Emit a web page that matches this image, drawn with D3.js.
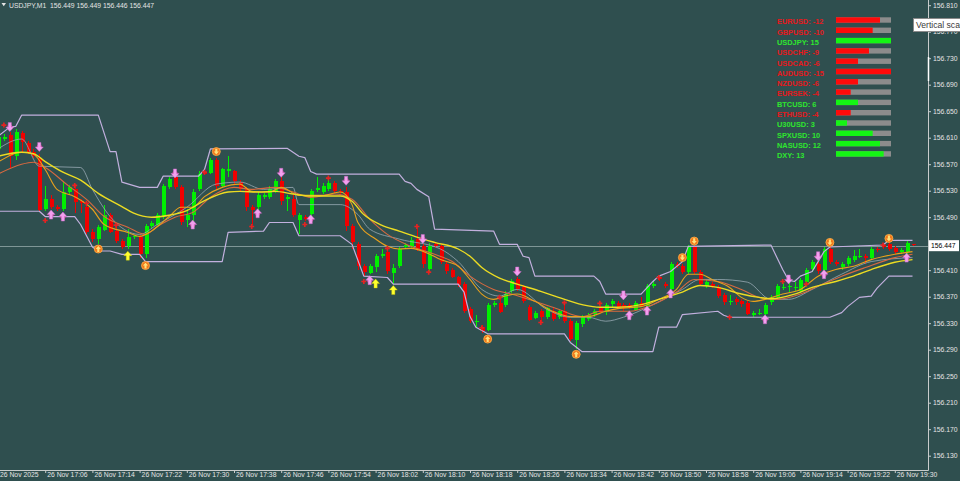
<!DOCTYPE html>
<html lang="en">
<head>
<meta charset="UTF-8">
<title>USDJPY,M1</title>
<script src="https://cdn.jsdelivr.net/npm/d3@7"></script>
<style>
  html, body { margin: 0; padding: 0; background: #2f4f4f; }
  svg { display: block; }
  text { font-family: "Liberation Sans", Arial, sans-serif; }
</style>
</head>
<body>
<svg width="960" height="481"></svg>
<script>
const width = 960;
const height = 481;

// one-minute bars, first bar 26 Nov 16:58, last bar 19:33
const open = [
  156.593,156.608,156.614,156.582,156.617,156.602,156.589,156.580,156.502,156.517,
  156.506,156.502,156.528,156.532,156.514,156.505,156.467,156.457,156.472,156.494,
  156.469,156.454,156.446,156.460,156.460,156.434,156.476,156.479,156.491,156.535,
  156.550,156.535,156.487,156.494,156.532,156.558,156.558,156.577,156.537,156.559,
  156.559,156.543,156.532,156.505,156.505,156.520,156.520,156.529,156.544,156.517,
  156.518,156.487,156.490,156.494,156.531,156.528,156.532,156.541,156.529,156.528,
  156.476,156.449,156.416,156.407,156.414,156.431,156.437,156.407,156.416,156.445,
  156.445,156.457,156.446,156.411,156.449,156.446,156.419,156.411,156.399,156.389,
  156.351,156.333,156.324,156.321,156.358,156.361,156.358,156.378,156.396,156.384,
  156.355,156.339,156.348,156.339,156.349,156.339,156.348,156.333,156.306,156.328,
  156.337,156.343,156.355,156.346,156.358,156.360,156.358,156.357,156.351,156.361,
  156.355,156.386,156.399,156.389,156.381,156.419,156.416,156.407,156.445,156.407,
  156.386,156.389,156.384,156.372,156.361,156.366,156.363,156.361,156.343,156.345,
  156.343,156.361,156.369,156.383,156.384,156.383,156.378,156.393,156.411,156.419,
  156.411,156.442,156.422,156.414,156.419,156.426,156.431,156.432,156.429,156.442,
  156.448,156.449,156.443,156.437,156.437,156.449
];
const high = [
  156.617,156.615,156.618,156.623,156.620,156.605,156.593,156.585,156.537,156.523,
  156.509,156.543,156.538,156.540,156.517,156.511,156.472,156.478,156.509,156.497,
  156.478,156.457,156.472,156.463,156.463,156.479,156.484,156.497,156.540,156.550,
  156.553,156.538,156.502,156.532,156.559,156.562,156.580,156.580,156.565,156.582,
  156.562,156.546,156.535,156.508,156.528,156.526,156.537,156.547,156.550,156.523,
  156.523,156.497,156.493,156.532,156.551,156.541,156.547,156.544,156.532,156.535,
  156.479,156.452,156.419,156.420,156.435,156.442,156.443,156.419,156.445,156.451,
  156.460,156.472,156.449,156.451,156.452,156.449,156.422,156.414,156.402,156.392,
  156.354,156.343,156.327,156.361,156.364,156.369,156.378,156.396,156.399,156.387,
  156.358,156.349,156.351,156.355,156.353,156.351,156.361,156.336,156.334,156.342,
  156.346,156.351,156.358,156.360,156.366,156.363,156.361,156.360,156.364,156.369,
  156.389,156.393,156.402,156.392,156.422,156.422,156.419,156.448,156.448,156.410,
  156.395,156.392,156.387,156.375,156.372,156.369,156.366,156.364,156.349,156.351,
  156.360,156.372,156.389,156.390,156.396,156.392,156.398,156.414,156.425,156.422,
  156.445,156.445,156.425,156.422,156.431,156.440,156.442,156.435,156.445,156.445,
  156.451,156.452,156.446,156.443,156.454,156.449
];
const low = [
  156.589,156.605,156.565,156.577,156.588,156.585,156.580,156.499,156.499,156.502,
  156.500,156.499,156.523,156.497,156.496,156.464,156.452,156.449,156.469,156.466,
  156.451,156.442,156.442,156.457,156.429,156.429,156.473,156.476,156.488,156.532,
  156.532,156.478,156.475,156.484,156.529,156.553,156.555,156.532,156.535,156.550,
  156.540,156.528,156.499,156.478,156.500,156.517,156.517,156.526,156.509,156.499,
  156.490,156.464,156.484,156.491,156.528,156.525,156.529,156.526,156.525,156.469,
  156.442,156.411,156.402,156.404,156.408,156.428,156.405,156.389,156.413,156.442,
  156.442,156.439,156.414,156.408,156.443,156.419,156.405,156.398,156.384,156.345,
  156.330,156.325,156.315,156.318,156.355,156.345,156.355,156.375,156.378,156.360,
  156.333,156.336,156.331,156.336,156.334,156.336,156.330,156.303,156.291,156.325,
  156.334,156.340,156.346,156.343,156.355,156.351,156.349,156.351,156.348,156.354,
  156.353,156.383,156.393,156.383,156.378,156.413,156.404,156.404,156.404,156.386,
  156.383,156.383,156.368,156.358,156.357,156.358,156.355,156.342,156.340,156.342,
  156.340,156.358,156.366,156.380,156.377,156.378,156.375,156.384,156.408,156.405,
  156.408,156.419,156.416,156.411,156.416,156.423,156.428,156.420,156.426,156.437,
  156.442,156.439,156.434,156.434,156.434,156.446
];
const close = [
  156.611,156.611,156.582,156.618,156.603,156.589,156.583,156.502,156.517,156.505,
  156.503,156.528,156.535,156.512,156.511,156.467,156.457,156.475,156.494,156.469,
  156.454,156.445,156.460,156.461,156.434,156.476,156.481,156.494,156.537,156.547,
  156.535,156.482,156.494,156.528,156.555,156.555,156.577,156.537,156.562,156.562,
  156.544,156.532,156.505,156.500,156.523,156.523,156.532,156.544,156.514,156.520,
  156.494,156.494,156.487,156.529,156.534,156.537,156.541,156.529,156.528,156.476,
  156.452,156.416,156.407,156.417,156.431,156.434,156.408,156.414,156.442,156.448,
  156.455,156.442,156.419,156.446,156.446,156.422,156.408,156.401,156.387,156.348,
  156.333,156.334,156.318,156.358,156.361,156.348,156.374,156.393,156.381,156.363,
  156.336,156.346,156.339,156.353,156.337,156.348,156.333,156.306,156.331,156.339,
  156.343,156.348,156.348,156.357,156.363,156.354,156.353,156.354,156.361,156.357,
  156.386,156.389,156.396,156.386,156.419,156.416,156.407,156.445,156.407,156.389,
  156.392,156.386,156.371,156.361,156.363,156.361,156.358,156.345,156.346,156.346,
  156.357,156.369,156.386,156.384,156.386,156.384,156.395,156.411,156.422,156.408,
  156.442,156.422,156.419,156.419,156.428,156.432,156.432,156.429,156.442,156.440,
  156.445,156.442,156.437,156.440,156.451,156.447
];

const tickBars = [0, 8, 16, 24, 32, 40, 48, 56, 64, 72, 80, 88, 96, 104, 112, 120, 128, 136, 144, 152];
const tickLabels = ['26 Nov 2025', '26 Nov 17:06', '26 Nov 17:14', '26 Nov 17:22', '26 Nov 17:30',
  '26 Nov 17:38', '26 Nov 17:46', '26 Nov 17:54', '26 Nov 18:02', '26 Nov 18:10', '26 Nov 18:18',
  '26 Nov 18:26', '26 Nov 18:34', '26 Nov 18:42', '26 Nov 18:50', '26 Nov 18:58', '26 Nov 19:06',
  '26 Nov 19:14', '26 Nov 19:22', '26 Nov 19:30'];
// 156.450 sits under the current-price box, so it is not labelled
const priceTicks = [156.130, 156.170, 156.210, 156.250, 156.290, 156.330, 156.370, 156.410,
  156.490, 156.530, 156.570, 156.610, 156.650, 156.690, 156.730, 156.770, 156.810];

// indicator lines, [bar, price]
const maYellow = [[0,156.582],[4,156.588],[6,156.586],[8,156.574],[11,156.558],[14,156.546],[17,156.526],
  [21,156.506],[23,156.496],[26,156.490],[29,156.493],[32,156.500],[35,156.515],[39,156.528],[41,156.529],
  [44,156.528],[47,156.529],[50,156.525],[53,156.522],[56,156.522],[58,156.522],[60,156.514],[62,156.494],
  [65,156.478],[68,156.469],[71,156.460],[74,156.452],[78,156.442],[80,156.431],[82,156.414],[85,156.398],
  [88,156.389],[92,156.378],[95,156.369],[99,156.358],[102,156.354],[105,156.354],[109,156.358],[112,156.366],
  [116,156.377],[119,156.387],[122,156.384],[126,156.374],[129,156.369],[131,156.367],[135,156.374],
  [138,156.384],[142,156.393],[145,156.401],[148,156.411],[152,156.422],[155,156.426]];
const maOrange = [[0,156.573],[4,156.588],[6,156.585],[8,156.562],[10,156.532],[13,156.521],[16,156.502],
  [18,156.479],[22,156.467],[24,156.461],[26,156.469],[29,156.491],[31,156.505],[33,156.505],[35,156.521],
  [38,156.535],[41,156.540],[43,156.529],[46,156.528],[48,156.535],[51,156.523],[55,156.523],[58,156.528],
  [60,156.509],[61,156.482],[64,156.457],[66,156.446],[68,156.442],[70,156.443],[73,156.435],[75,156.426],
  [78,156.416],[80,156.396],[82,156.374],[84,156.366],[86,156.371],[88,156.374],[91,156.363],[94,156.348],
  [97,156.340],[100,156.340],[103,156.348],[105,156.352],[109,156.355],[112,156.366],[115,156.381],
  [117,156.404],[119,156.404],[121,156.396],[124,156.384],[126,156.369],[128,156.363],[130,156.366],
  [133,156.374],[136,156.381],[139,156.401],[142,156.411],[145,156.416],[148,156.426],[152,156.434],[155,156.438]];
const maSalmon = [[0,156.555],[4,156.570],[6,156.573],[8,156.565],[12,156.537],[15,156.517],[18,156.491],
  [22,156.475],[25,156.464],[27,156.476],[30,156.490],[33,156.497],[36,156.520],[40,156.535],[43,156.532],
  [47,156.535],[50,156.528],[53,156.520],[57,156.525],[60,156.517],[63,156.487],[66,156.464],[70,156.446],
  [74,156.434],[77,156.423],[80,156.401],[84,156.381],[87,156.374],[91,156.363],[95,156.351],[99,156.340],
  [102,156.348],[107,156.348],[111,156.358],[115,156.377],[118,156.396],[122,156.393],[126,156.381],
  [129,156.369],[132,156.366],[136,156.374],[139,156.386],[143,156.401],[147,156.414],[152,156.429],[155,156.434]];
const thinGrey = [[0,156.593],[4,156.608],[7,156.567],[14,156.565],[16,156.532],[19,156.491],[24,156.464],
  [27,156.479],[32,156.505],[37,156.540],[41,156.543],[45,156.532],[50,156.535],[51,156.509],[58,156.509],
  [61,156.494],[63,156.472],[68,156.457],[75,156.442],[78,156.423],[82,156.381],[85,156.371],[88,156.381],
  [93,156.351],[97,156.339],[100,156.339],[103,156.333],[106,156.339],[111,156.358],[116,156.381],
  [119,156.396],[122,156.396],[127,156.392],[131,156.366],[134,156.366],[138,156.381],[143,156.404],
  [148,156.423],[155,156.429]];
const channelUpper = [[0,156.612],[2,156.626],[3,156.627],[4,156.644],[17,156.644],[19,156.589],[20,156.589],
  [21,156.543],[24,156.535],[27,156.535],[28,156.552],[34,156.552],[35,156.562],[36,156.593],[49,156.594],
  [51,156.582],[52,156.580],[53,156.559],[54,156.555],[68,156.555],[69,156.544],[70,156.541],[71,156.532],
  [73,156.521],[74,156.472],[84,156.469],[85,156.449],[88,156.449],[89,156.431],[90,156.429],[91,156.401],
  [101,156.401],[102,156.393],[103,156.374],[109,156.374],[111,156.393],[112,156.401],[114,156.408],
  [116,156.423],[117,156.446],[131,156.448],[133,156.411],[134,156.395],[135,156.393],[136,156.401],
  [138,156.408],[139,156.423],[140,156.438],[141,156.445],[150,156.448],[151,156.455],[155,156.455]];
const channelLower = [[0,156.499],[7,156.499],[8,156.491],[13,156.491],[14,156.479],[16,156.445],[17,156.439],
  [19,156.439],[21,156.434],[24,156.434],[25,156.423],[38,156.423],[39,156.467],[45,156.469],[46,156.482],
  [50,156.482],[51,156.462],[58,156.462],[60,156.449],[62,156.401],[66,156.399],[67,156.389],[78,156.389],
  [79,156.377],[80,156.340],[81,156.324],[83,156.314],[96,156.314],[97,156.301],[99,156.287],[111,156.287],
  [112,156.324],[115,156.324],[116,156.343],[122,156.348],[123,156.342],[124,156.339],[141,156.339],
  [143,156.346],[144,156.355],[146,156.369],[148,156.371],[149,156.383],[151,156.401],[155,156.401]];

// signals, [bar, price, direction] (1 = up arrow, -1 = down arrow)
const pinkSignals = [[2,156.626,-1],[7,156.596,-1],[9,156.494,1],[11,156.491,1],[30,156.556,-1],[33,156.479,1],
  [44,156.496,1],[48,156.557,-1],[53,156.487,1],[59,156.545,-1],[63,156.395,1],[72,156.457,-1],[88,156.408,-1],
  [106,156.372,-1],[107,156.342,1],[110,156.349,1],[114,156.375,1],[130,156.336,1],[134,156.396,-1],
  [139,156.431,-1],[140,156.404,1],[154,156.429,1]];
const yellowSignals = [[22,156.432,1],[64,156.390,1],[67,156.380,1]];
const orangeSignals = [[17,156.442,1],[25,156.417,1],[37,156.589,-1],[83,156.306,1],[98,156.283,1],
  [116,156.429,-1],[118,156.454,-1],[141,156.452,-1],[151,156.458,-1]];
const redDots = [[1,156.629],[8,156.485],[13,156.538],[15,156.511],[20,156.478],[35,156.558],[43,156.476],
  [52,156.479],[56,156.549],[62,156.393],[66,156.443],[71,156.476],[73,156.407],[82,156.323],[85,156.369],
  [92,156.331],[96,156.361],[102,156.360],[112,156.399],[124,156.339],[133,156.393],[137,156.389],[150,156.448]];

// currency strength panel
const legendSymbols = ['EURUSD', 'GBPUSD', 'USDJPY', 'USDCHF', 'USDCAD', 'AUDUSD', 'NZDUSD',
  'EURSEK', 'BTCUSD', 'ETHUSD', 'U30USD', 'SPXUSD', 'NASUSD', 'DXY'];
const legendScores = [-12, -10, 15, -9, -6, -15, -6, -4, 6, -4, 3, 10, 12, 13];

const plotRight = 928;
const plotBottom = 470;
const bg = '#2f4f4f';
const bull = '#00f000';
const bear = '#f00000';
const axisColor = '#c8cccc';
const labelColor = '#e4e4e4';

const n = open.length;
const x = d3.scaleLinear().domain([0, n - 1]).range([-2, 912.5]);
const y = d3.scaleLinear().domain([156.130, 156.810]).range([455.7, 5.2]);
const fmt = d3.format('.3f');

const svg = d3.select('svg');
svg.append('rect').attr('width', width).attr('height', height).attr('fill', bg);

svg.append('defs').append('clipPath').attr('id', 'plot')
  .append('rect').attr('width', plotRight).attr('height', plotBottom);

const plot = svg.append('g').attr('clip-path', 'url(#plot)');

// current price line
plot.append('line')
  .attr('x1', 0).attr('x2', plotRight)
  .attr('y1', Math.round(y(close[n - 1])) + 0.5).attr('y2', Math.round(y(close[n - 1])) + 0.5)
  .attr('stroke', '#7f9696').attr('stroke-width', 1);

// candles
const cx = i => Math.round(x(i)) + 0.5;
const candles = plot.append('g').attr('shape-rendering', 'crispEdges')
  .selectAll('g').data(d3.range(n)).join('g')
  .attr('stroke', i => close[i] >= open[i] ? bull : bear)
  .attr('fill', i => close[i] >= open[i] ? bull : bear);
candles.append('line')
  .attr('x1', cx).attr('x2', cx)
  .attr('y1', i => y(high[i])).attr('y2', i => y(low[i]));
candles.append('rect')
  .attr('stroke', 'none')
  .attr('x', i => cx(i) - 2)
  .attr('width', 4)
  .attr('y', i => Math.round(y(Math.max(open[i], close[i]))))
  .attr('height', i => Math.max(1, Math.round(Math.abs(y(open[i]) - y(close[i])))));

// indicator lines
const straight = d3.line().x(d => x(d[0])).y(d => y(d[1]));
const smooth = d3.line().x(d => x(d[0])).y(d => y(d[1])).curve(d3.curveMonotoneX);

const lines = [
  {data: channelUpper, gen: straight, color: '#c2b0de', w: 1.2},
  {data: channelLower, gen: straight, color: '#c2b0de', w: 1.2},
  {data: thinGrey, gen: smooth, color: '#98aab4', w: 0.8},
  {data: maSalmon, gen: smooth, color: '#d8693f', w: 1.1},
  {data: maOrange, gen: smooth, color: '#e9a11c', w: 1.1},
  {data: maYellow, gen: smooth, color: '#ecdc22', w: 1.4}
];
plot.append('g').attr('fill', 'none')
  .selectAll('path').data(lines).join('path')
  .attr('d', d => d.gen(d.data))
  .attr('stroke', d => d.color)
  .attr('stroke-width', d => d.w)
  .attr('stroke-linejoin', 'round');

// signal markers
const arrowPath = 'M0,-4.5L4,0L1.6,0L1.6,4.5L-1.6,4.5L-1.6,0L-4,0Z';
const place = (d, s = 1) => `translate(${x(d[0])},${y(d[1])}) rotate(${d[2] > 0 ? 0 : 180}) scale(${s})`;

const marks = plot.append('g');

marks.append('g').selectAll('path').data(redDots).join('path')
  .attr('transform', d => `translate(${x(d[0])},${y(d[1])})`)
  .attr('d', d3.symbol(d3.symbolCross, 14))
  .attr('fill', '#e52222');

const pink = marks.append('g').selectAll('g').data(pinkSignals).join('g');
pink.append('circle')
  .attr('cx', d => x(d[0])).attr('cy', d => y(d[1]))
  .attr('r', 2.6).attr('fill', '#d2438f');
pink.append('path')
  .attr('transform', d => place(d))
  .attr('d', arrowPath)
  .attr('fill', '#f2a0ee').attr('stroke', '#c766c4').attr('stroke-width', 0.5);

marks.append('g').selectAll('path').data(yellowSignals).join('path')
  .attr('transform', d => place(d))
  .attr('d', arrowPath)
  .attr('fill', '#ffff2e').attr('stroke', '#c8c800').attr('stroke-width', 0.4);

const orange = marks.append('g').selectAll('g').data(orangeSignals).join('g');
orange.append('circle')
  .attr('cx', d => x(d[0])).attr('cy', d => y(d[1]))
  .attr('r', 4).attr('fill', '#f2761a').attr('stroke', '#ffb347').attr('stroke-width', 0.8);
orange.append('path')
  .attr('transform', d => place(d, 0.65))
  .attr('d', arrowPath)
  .attr('fill', '#ffe27a');

// axes
const yAxis = g => g
  .attr('transform', `translate(${plotRight},0)`)
  .call(d3.axisRight(y).tickValues(priceTicks).tickFormat(fmt).tickSize(3).tickPadding(2))
  .call(g => g.select('.domain').remove())
  .call(g => g.selectAll('line').attr('stroke', axisColor))
  .call(g => g.selectAll('text').attr('fill', labelColor).attr('font-size', 6.8)
    .attr('font-family', '"Liberation Sans", Arial, sans-serif'));

const xAxis = g => g
  .attr('transform', `translate(0,${plotBottom})`)
  .call(d3.axisBottom(x).tickValues(tickBars).tickFormat((d, i) => tickLabels[i]).tickSize(3))
  .call(g => g.select('.domain').remove())
  .call(g => g.selectAll('line').attr('stroke', axisColor))
  .call(g => g.selectAll('text').attr('fill', labelColor).attr('font-size', 6.8)
    .attr('font-family', '"Liberation Sans", Arial, sans-serif')
    .attr('text-anchor', 'start').attr('x', 1.5).attr('y', 2.5));

svg.append('g').call(yAxis);
svg.append('g').call(xAxis);

svg.append('path')
  .attr('d', `M0,${plotBottom + 0.5}H${plotRight + 0.5}V0`)
  .attr('fill', 'none').attr('stroke', axisColor).attr('stroke-width', 1);

// chart shift marker on the price scale
svg.append('line')
  .attr('x1', plotRight + 0.5).attr('x2', plotRight + 0.5)
  .attr('y1', 57).attr('y2', 81)
  .attr('stroke', '#ffffff').attr('stroke-width', 1.5);

// current price box
const py = y(close[n - 1]);
svg.append('rect')
  .attr('x', plotRight + 1).attr('y', py - 5.5)
  .attr('width', 30).attr('height', 11)
  .attr('fill', '#ffffff');
svg.append('text')
  .attr('x', plotRight + 3).attr('y', py + 2.5)
  .attr('font-size', 6.8).attr('fill', '#000000')
  .text(fmt(close[n - 1]));

// title
svg.append('path').attr('d', 'M1.5,3L6,3L3.75,6.2Z').attr('fill', '#e4e4e4');
svg.append('text')
  .attr('x', 9).attr('y', 7.5)
  .attr('font-size', 6.8).attr('fill', '#e4e4e4')
  .attr('xml:space', 'preserve')
  .text(`USDJPY,M1  ${fmt(open[n - 1])} ${fmt(high[n - 1])} ${fmt(low[n - 1])} ${fmt(close[n - 1])}`);

// strength panel
const rowY = d3.scalePoint().domain(legendSymbols).range([24.3, 158.2]);
const barW = d3.scaleLinear().domain([0, 15]).range([0, 55]);
const panel = svg.append('g');
const row = panel.selectAll('g').data(legendSymbols).join('g')
  .attr('transform', d => `translate(0,${rowY(d)})`);
row.append('text')
  .attr('x', 777)
  .attr('font-size', 7.4).attr('font-weight', 'bold')
  .attr('fill', (d, i) => legendScores[i] < 0 ? '#e6181c' : '#2ee62e')
  .text((d, i) => `${d}: ${legendScores[i]}`);
row.append('rect')
  .attr('x', 836).attr('y', -7).attr('width', barW(15)).attr('height', 5.4)
  .attr('fill', '#8c8c8c');
row.append('rect')
  .attr('x', 836).attr('y', -7).attr('height', 5.4)
  .attr('width', (d, i) => barW(Math.abs(legendScores[i])))
  .attr('fill', (d, i) => legendScores[i] < 0 ? '#ff0a0a' : '#14f514');

// tooltip over the price scale, cut by the window edge as in the terminal
const tip = svg.append('g');
tip.append('rect')
  .attr('x', 913.5).attr('y', 18.5).attr('width', 52).attr('height', 13)
  .attr('fill', '#ffffff').attr('stroke', '#8a8a8a');
tip.append('text')
  .attr('x', 916).attr('y', 28)
  .attr('font-size', 8.6).attr('fill', '#3a3a3a')
  .text('Vertical scale');
</script>
</body>
</html>
